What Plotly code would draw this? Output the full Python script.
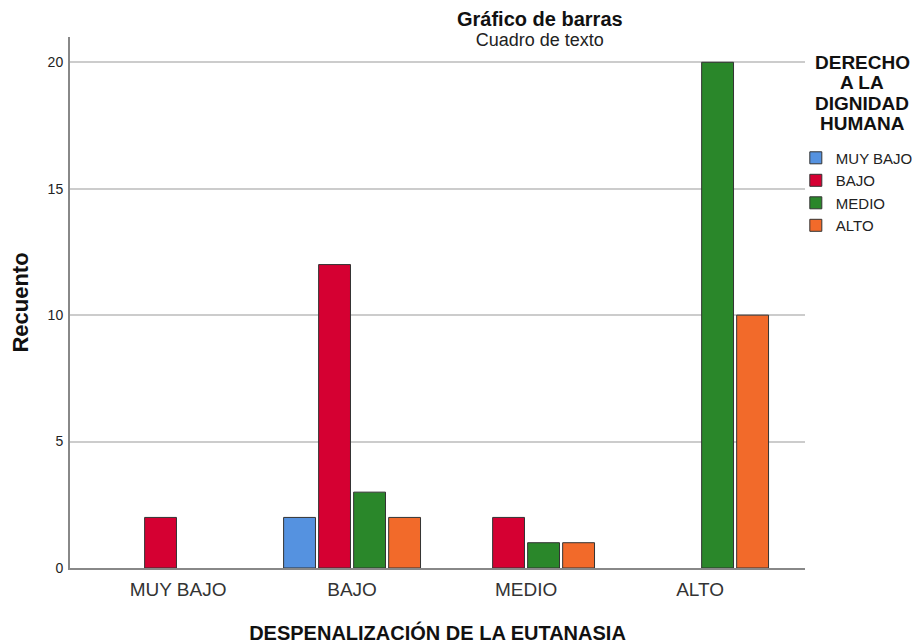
import plotly.graph_objects as go

categories = ["MUY BAJO", "BAJO", "MEDIO", "ALTO"]
series_names = ["MUY BAJO", "BAJO", "MEDIO", "ALTO"]
muy_bajo = [None, 2, None, None]
bajo = [2, 12, 2, None]
medio = [None, 3, 1, 20]
alto = [None, 2, 1, 10]
series_values = [muy_bajo, bajo, medio, alto]
colors = ["#5592e0", "#d50032", "#2a872a", "#f26a2a"]
legend_title_lines = ["DERECHO", "A LA", "DIGNIDAD", "HUMANA"]

FONT = "Arial, Liberation Sans, sans-serif"

fig = go.Figure()
for name, vals, col in zip(series_names, series_values, colors):
    fig.add_trace(go.Bar(
        x=categories, y=vals, name=name,
        marker=dict(color=col, line=dict(color="#333333", width=1)),
    ))

annotations = [
    dict(text=("<b><span style='font-size:20px'>Gráfico de barras</span></b><br>"
               "<span style='font-size:18px;color:#222222'>Cuadro de texto</span>"),
         xref="paper", yref="paper",
         x=0.639, y=1.0, yshift=8, xanchor="center", yanchor="middle",
         align="center", showarrow=False,
         font=dict(size=15.5, family=FONT, color="#111111")),
]
for i, line in enumerate(legend_title_lines):
    annotations.append(dict(
        text="<b>%s</b>" % line, xref="paper", yref="paper",
        x=1.0, xshift=57, y=1.0, yshift=-(25 + 20.5 * i),
        xanchor="center", yanchor="middle", showarrow=False,
        font=dict(size=19, family=FONT, color="#111111"),
    ))

fig.update_layout(
    width=915, height=636,
    margin=dict(l=62, r=118, t=29, b=76, autoexpand=False),
    paper_bgcolor="white", plot_bgcolor="white",
    barmode="group", bargap=0.195, bargroupgap=0.09,
    font=dict(family=FONT, color="#222222"),
    showlegend=True,
    legend=dict(
        xref="container", yref="container",
        x=0.861, xanchor="left", y=0.79, yanchor="top",
        font=dict(size=15, family=FONT, color="#222222"),
        itemwidth=30, tracegroupgap=0,
        bgcolor="rgba(0,0,0,0)",
    ),
    xaxis=dict(
        automargin=False,
        range=[-0.621, 3.603],
        showline=True, linecolor="#888888", linewidth=2,
        ticks="", ticklabelstandoff=3,
        tickfont=dict(size=19, family=FONT, color="#333333"),
        title=dict(text="<b>DESPENALIZACIÓN DE LA EUTANASIA</b>",
                   font=dict(size=20, family=FONT, color="#111111"), standoff=27),
        showgrid=False,
    ),
    yaxis=dict(
        automargin=False,
        range=[0, 21], tickvals=[0, 5, 10, 15, 20],
        showline=True, linecolor="#888888", linewidth=2,
        showgrid=True, gridcolor="#cccccc", gridwidth=1.5,
        zeroline=False, ticks="", ticklen=0, ticklabelstandoff=2,
        tickfont=dict(size=14, family=FONT, color="#222222"),
        title=dict(text="<b>Recuento</b>", font=dict(size=22, family=FONT, color="#111111"),
                   standoff=24),
    ),
    annotations=annotations,
)

fig.write_html("out.html")
